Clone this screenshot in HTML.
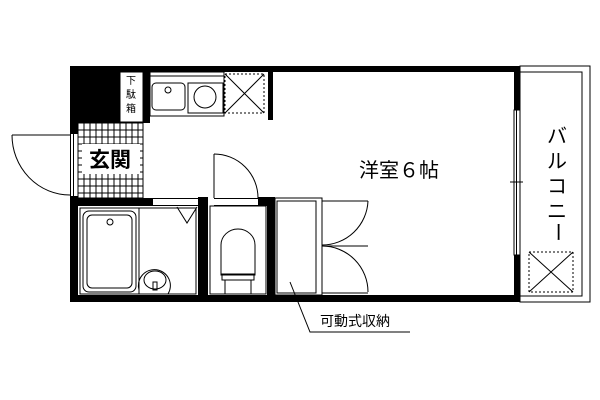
<!DOCTYPE html>
<html><head><meta charset="utf-8"><style>
html,body{margin:0;padding:0;background:#fff;width:600px;height:400px;overflow:hidden}
text{font-family:"Liberation Sans","Noto Sans CJK JP",sans-serif}
</style></head><body>
<svg width="600" height="400" viewBox="0 0 600 400" xmlns="http://www.w3.org/2000/svg">
<rect width="600" height="400" fill="#fff"/>
<g fill="none" stroke="#000" stroke-width="1">
<rect x="520" y="66" width="70" height="236"/>
<rect x="520" y="72" width="62" height="224"/>
<rect x="529" y="252" width="44" height="40" stroke-dasharray="2,2"/>
<path d="M529 252L573 292M573 252L529 292"/>
<rect x="514" y="110" width="6" height="145" fill="#fff"/>
<line x1="516.5" y1="110" x2="516.5" y2="255"/>
<line x1="510" y1="182" x2="523" y2="182"/>
</g>
<g fill="#000">
<rect x="70" y="66" width="450" height="6"/>
<rect x="514" y="66" width="6" height="44"/>
<rect x="514" y="255" width="6" height="47"/>
<rect x="70" y="295" width="450" height="7"/>
<rect x="70" y="66" width="50" height="57"/>
<rect x="70" y="66" width="8" height="68"/>
<rect x="143" y="72" width="7" height="51"/>
<rect x="268" y="72" width="5" height="48"/>
<rect x="70" y="196" width="8" height="106"/>
<rect x="70" y="198" width="83" height="8"/>
<rect x="198" y="197" width="10" height="105"/>
<rect x="258" y="197" width="17" height="9"/>
<rect x="267" y="197" width="8" height="105"/>
</g>
<g fill="none" stroke="#000" stroke-width="1">
<line x1="70.5" y1="134" x2="70.5" y2="196"/>
<line x1="73.5" y1="134" x2="73.5" y2="196"/>
<line x1="12" y1="135" x2="70" y2="135"/>
<path d="M12 135A58 60 0 0 0 70 195"/>
<rect x="120" y="72" width="23" height="50"/>
<rect x="150" y="72" width="74" height="44"/>
<line x1="150" y1="76" x2="224" y2="76"/>
<rect x="152" y="83" width="33" height="27" rx="4"/>
<circle cx="168" cy="90" r="3"/>
<rect x="188" y="83" width="35" height="30"/>
<circle cx="205" cy="97" r="11"/>
<rect x="225" y="74" width="39" height="39" stroke-dasharray="2,2"/>
<path d="M225 74L264 113M264 74L225 113"/>
<line x1="153" y1="198.5" x2="198" y2="198.5"/>
<line x1="153" y1="205.5" x2="198" y2="205.5"/>
<rect x="80" y="208" width="116" height="86"/>
<line x1="139" y1="208" x2="139" y2="294"/>
<rect x="83" y="211" width="53" height="81" rx="6"/>
<rect x="87" y="215" width="45" height="73" rx="5"/>
<circle cx="110" cy="222" r="3"/>
<path d="M177 207L187 223L197 207"/>
<path d="M139 294L139 290A16 16 0 1 1 168 294"/>
<ellipse cx="155" cy="280" rx="11" ry="9"/>
<rect x="153" y="282" width="4" height="8"/>
<rect x="210" y="206" width="56" height="88"/>
<line x1="214" y1="198.5" x2="258" y2="198.5"/>
<line x1="214" y1="205.5" x2="258" y2="205.5"/>
<line x1="214" y1="154" x2="214" y2="198"/>
<path d="M214 154A44 44 0 0 1 258 198"/>
<path d="M221 275L221 245A17 16 0 0 1 255 245L255 275Z"/>
<rect x="222" y="274" width="32" height="6"/>
<rect x="225" y="280" width="26" height="14"/>
<rect x="275" y="198" width="47" height="97"/>
<rect x="277" y="201" width="39" height="92"/>
<line x1="316" y1="201" x2="316" y2="293"/>
<line x1="322" y1="201" x2="368" y2="201"/>
<path d="M368 201A46 46 0 0 1 322 245"/>
<line x1="322" y1="246" x2="368" y2="246"/>
<path d="M322 246A46 46 0 0 1 368 292"/>
<line x1="322" y1="293" x2="368" y2="293"/>
<polyline points="290,282 310,332 410,332"/>
</g>
<g stroke="#000" stroke-width="1">
<rect x="78" y="123" width="65" height="75" fill="#fff"/>
<path d="M78 130H143M78 137H143M78 144H143M78 151H143M78 158H143M78 165H143M78 172H143M78 179H143M78 186H143M78 193H143
M84 123V198M90 123V198M96 123V198M102 123V198M108 123V198M114 123V198M120 123V198M126 123V198M132 123V198M138 123V198"/>
</g>
<rect x="82" y="144" width="58" height="30" fill="#fff"/>
<g fill="#000">
<text x="110" y="167" font-size="21" text-anchor="middle" font-weight="bold">玄関</text>
<text x="131" y="84" font-size="10" text-anchor="middle">下</text>
<text x="131" y="98" font-size="10" text-anchor="middle">駄</text>
<text x="131" y="112" font-size="10" text-anchor="middle">箱</text>
<text x="399" y="177" font-size="20" text-anchor="middle">洋室６帖</text>
<text x="557" y="143" font-size="20" text-anchor="middle">バ</text>
<text x="557" y="168" font-size="20" text-anchor="middle">ル</text>
<text x="557" y="193" font-size="20" text-anchor="middle">コ</text>
<text x="557" y="218" font-size="20" text-anchor="middle">ニ</text>
<text x="0" y="0" font-size="20" text-anchor="middle" transform="translate(557,232) rotate(90)" dominant-baseline="central">ー</text>
<text x="355" y="326" font-size="14" text-anchor="middle">可動式収納</text>
</g>
</svg>
</body></html>
